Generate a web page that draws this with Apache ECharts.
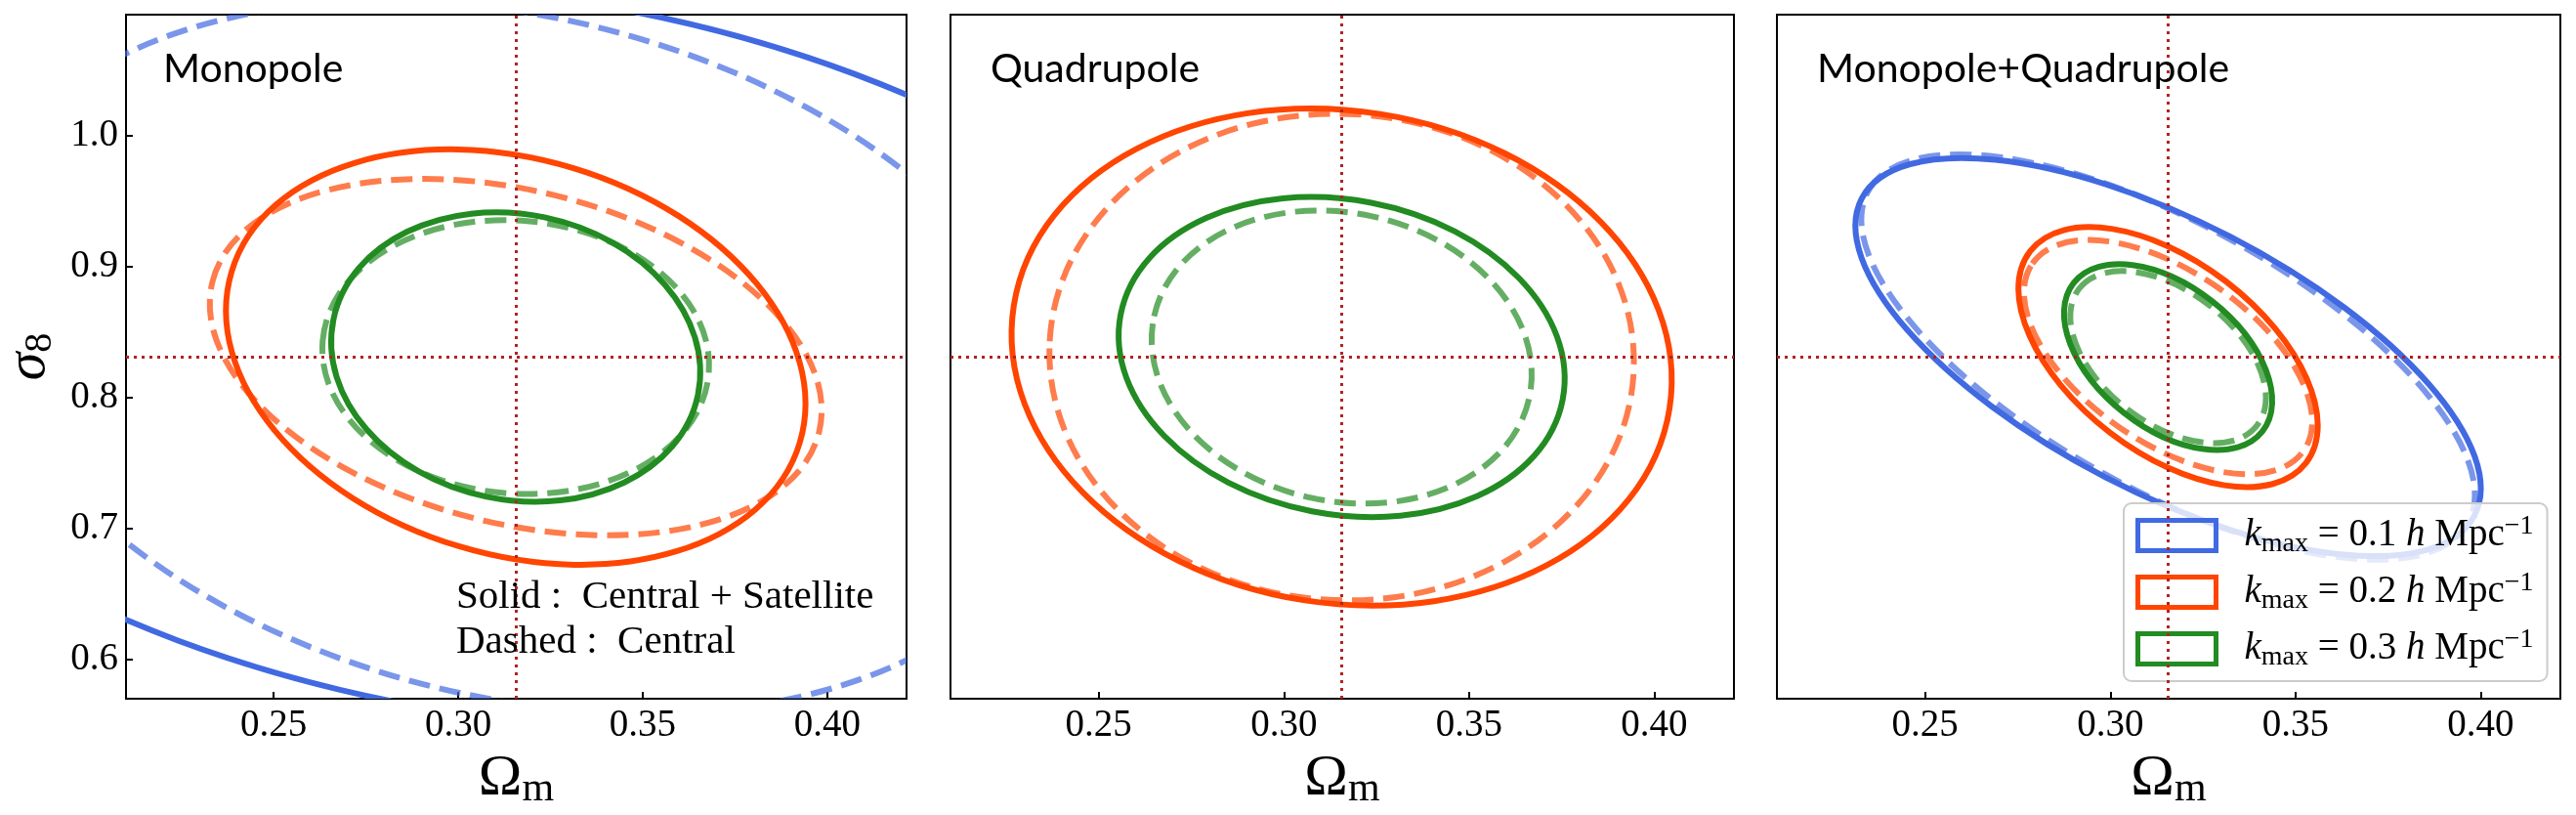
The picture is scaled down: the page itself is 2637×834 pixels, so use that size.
<!DOCTYPE html>
<html lang="en">
<head>
<meta charset="UTF-8">
<title>Fisher contours: Omega_m vs sigma_8</title>
<script src="https://cdn.jsdelivr.net/npm/echarts@6.0.0/dist/echarts.min.js"></script>
<style>
  html, body { margin: 0; background: #fff; }
  #main { width: 2637px; height: 834px; }
</style>
</head>
<body>
<div id="main"></div>
<script>
// fiducial cosmology (Omega_m, sigma_8)
var fiducial = [0.3156, 0.831];
var kValues = ['0.1', '0.2', '0.3'];
var kColors = ['#4169e1', '#ff4500', '#228b22'];
var panelNames = ['Monopole', 'Quadrupole', 'Monopole+Quadrupole'];
var xTicks = [0.25, 0.30, 0.35, 0.40];
var yTicks = [0.6, 0.7, 0.8, 0.9, 1.0];
var xRange = [0.21, 0.4215];
var yRange = [0.57, 1.0925];

// contour half-extents:
// [half width in Omega_m, half height in sigma_8, correlation], one per k_max
var monoSolid  = [[0.200, 0.286, -0.235], [0.0785, 0.1586, -0.225], [0.0500, 0.1105, -0.106]];
var monoDashed = [[0.149, 0.272, -0.235], [0.0829, 0.1361, -0.30],  [0.0524, 0.1046, -0.06]];
var quadSolid  = [null, [0.0891, 0.1898, -0.093], [0.0602, 0.1222, -0.135]];
var quadDashed = [null, [0.0789, 0.1858, -0.02],  [0.0513, 0.1119, -0.12]];
var bothSolid  = [[0.0844, 0.152, -0.66], [0.0404, 0.0993, -0.525], [0.0281, 0.0710, -0.47]];
var bothDashed = [[0.0828, 0.1548, -0.68], [0.0389, 0.0894, -0.55], [0.0264, 0.0657, -0.47]];

var panelSolid = [monoSolid, quadSolid, bothSolid];
var panelDashed = [monoDashed, quadDashed, bothDashed];

var serif = '"Liberation Serif", "DejaVu Serif", serif';
var gridLeft = [126, 973, 1819];

var myChart = echarts.init(document.getElementById('main'));

// draw one confidence ellipse using the axis scales
function ellipseRenderer(color, dashed) {
    return function (params, api) {
        var c = api.coord([api.value(0), api.value(1)]);
        var p = api.coord([api.value(0) + api.value(2), api.value(1) + api.value(3)]);
        var sx = p[0] - c[0];
        var sy = c[1] - p[1];
        var r = api.value(4);
        // pixel covariance, y grows downwards
        var a = sx * sx, d = sy * sy, b = -r * sx * sy;
        var t = 0.5 * Math.atan2(2 * b, a - d);
        var m = (a + d) / 2, q = Math.sqrt((a - d) * (a - d) / 4 + b * b);
        return {
            type: 'ellipse',
            x: c[0],
            y: c[1],
            rotation: -t,
            shape: { cx: 0, cy: 0, rx: Math.sqrt(m + q), ry: Math.sqrt(Math.max(m - q, 0)) },
            style: {
                fill: null,
                stroke: color,
                lineWidth: 6,
                lineDash: dashed ? [22, 10] : null,
                opacity: dashed ? 0.7 : 1
            }
        };
    };
}

var grids = [], xAxes = [], yAxes = [], series = [];

gridLeft.forEach(function (left, i) {
    grids.push({
        left: left, top: 15, width: 802, height: 704,
        show: true, borderColor: '#000', borderWidth: 2
    });
    xAxes.push({
        gridIndex: i, type: 'value', min: xRange[0], max: xRange[1],
        splitLine: { show: false },
        axisLine: { show: true, lineStyle: { color: '#000', width: 2 } },
        axisTick: { show: true, inside: true, length: 7, lineStyle: { color: '#000', width: 2 }, customValues: xTicks },
        axisLabel: {
            customValues: xTicks, color: '#000', fontFamily: serif, fontSize: 39, margin: 8,
            formatter: function (v) { return v.toFixed(2); }
        },
        name: '{o|Ω}{m|m}', nameLocation: 'middle', nameGap: 34,
        nameTextStyle: {
            rich: {
                o: { fontFamily: serif, fontSize: 60, lineHeight: 64, color: '#000' },
                m: { fontFamily: serif, fontSize: 42, lineHeight: 40, verticalAlign: 'bottom', color: '#000' }
            }
        }
    });
    yAxes.push({
        gridIndex: i, type: 'value', min: yRange[0], max: yRange[1],
        splitLine: { show: false },
        axisLine: { show: true, lineStyle: { color: '#000', width: 2 } },
        axisTick: { show: i === 0, inside: true, length: 7, lineStyle: { color: '#000', width: 2 }, customValues: yTicks },
        axisLabel: {
            show: i === 0, customValues: yTicks, color: '#000', fontFamily: serif, fontSize: 39, margin: 8,
            formatter: function (v) { return v.toFixed(1); }
        },
        name: i === 0 ? '{s|σ}{n|8}' : '', nameLocation: 'middle', nameGap: 68,
        nameTextStyle: {
            rich: {
                s: { fontFamily: serif, fontStyle: 'italic', fontSize: 58, lineHeight: 62, color: '#000' },
                n: { fontFamily: serif, fontSize: 40, lineHeight: 38, verticalAlign: 'bottom', color: '#000' }
            }
        }
    });

    for (var k = 0; k < 3; k++) {
        [[panelSolid[i][k], false], [panelDashed[i][k], true]].forEach(function (item) {
            var e = item[0];
            if (!e) return;
            series.push({
                type: 'custom',
                name: 'k' + k,
                xAxisIndex: i, yAxisIndex: i,
                clip: true,
                z: 2,
                itemStyle: { color: kColors[k] },
                encode: { x: 0, y: 1 },
                renderItem: ellipseRenderer(kColors[k], item[1]),
                data: [[fiducial[0], fiducial[1], e[0], e[1], e[2]]]
            });
        });
    }

    // fiducial cross-hair (precision raised so the value is not rounded to 2 decimals)
    series.push({
        type: 'line', xAxisIndex: i, yAxisIndex: i, data: [], z: 3, silent: true,
        markLine: {
            silent: true, symbol: 'none', animation: false, precision: 6,
            label: { show: false },
            lineStyle: { color: '#b22222', type: [3, 5], width: 3 },
            data: [{ xAxis: fiducial[0] }, { yAxis: fiducial[1] }]
        }
    });
});

var graphics = panelNames.map(function (t, i) {
    return {
        type: 'text', x: gridLeft[i] + 41, y: 71, z: 10,
        style: { text: t, font: '41px Lato, "Noto Sans", sans-serif', fill: '#000', verticalAlign: 'middle' }
    };
});
graphics.push({
    type: 'text', x: 467, y: 611, z: 10,
    style: { text: 'Solid :  Central + Satellite', font: '41px ' + serif, fill: '#000', verticalAlign: 'middle' }
});
graphics.push({
    type: 'text', x: 467, y: 657, z: 10,
    style: { text: 'Dashed :  Central', font: '41px ' + serif, fill: '#000', verticalAlign: 'middle' }
});

myChart.setOption({
    animation: false,
    backgroundColor: '#fff',
    grid: grids,
    xAxis: xAxes,
    yAxis: yAxes,
    legend: {
        orient: 'vertical',
        left: 2174, top: 515,
        data: kValues.map(function (v, k) {
            return {
                name: 'k' + k, icon: 'rect',
                itemStyle: { color: 'rgba(255,255,255,0)', borderColor: kColors[k], borderWidth: 5 }
            };
        }),
        itemWidth: 80, itemHeight: 31, itemGap: 12,
        padding: [10, 14, 10, 12],
        backgroundColor: 'rgba(255,255,255,0.8)',
        borderColor: '#cccccc', borderWidth: 2, borderRadius: 8,
        selectedMode: false,
        formatter: function (name) {
            var v = kValues[+name.slice(1)];
            return '{k0|k}{s|max}{t| = ' + v + ' }{k|h}{t| Mpc}{p|−1}';
        },
        textStyle: {
            rich: {
                k0: { fontFamily: serif, fontStyle: 'italic', fontSize: 39, lineHeight: 46, color: '#000', padding: [0, 0, 0, 24] },
                k: { fontFamily: serif, fontStyle: 'italic', fontSize: 39, lineHeight: 46, color: '#000' },
                t: { fontFamily: serif, fontSize: 39, lineHeight: 46, color: '#000' },
                s: { fontFamily: serif, fontSize: 28, lineHeight: 26, verticalAlign: 'bottom', color: '#000' },
                p: { fontFamily: serif, fontSize: 28, lineHeight: 26, verticalAlign: 'top', color: '#000' }
            }
        }
    },
    graphic: graphics,
    series: series
});
</script>
</body>
</html>
